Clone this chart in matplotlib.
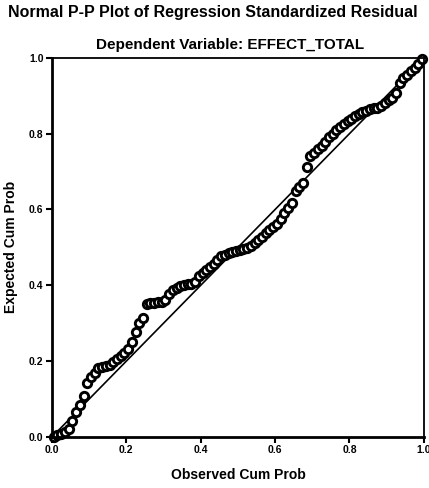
import numpy as np
import matplotlib
matplotlib.use('Agg')
import matplotlib.pyplot as plt

plt.rcParams['font.family'] = ['Liberation Sans', 'DejaVu Sans']

# Observed vs expected cumulative probability
observed = [0.005, 0.015, 0.025, 0.035, 0.045, 0.055, 0.065, 0.075, 0.085, 0.095,
            0.105, 0.115, 0.125, 0.135, 0.145, 0.155, 0.165, 0.175, 0.185, 0.195,
            0.205, 0.215, 0.225, 0.235, 0.245, 0.255, 0.265, 0.275, 0.285, 0.295,
            0.305, 0.315, 0.325, 0.335, 0.345, 0.355, 0.365, 0.375, 0.385, 0.395,
            0.405, 0.415, 0.425, 0.435, 0.445, 0.455, 0.465, 0.475, 0.485, 0.495,
            0.505, 0.515, 0.525, 0.535, 0.545, 0.555, 0.565, 0.575, 0.585, 0.595,
            0.605, 0.615, 0.625, 0.635, 0.645, 0.655, 0.665, 0.675, 0.685, 0.695,
            0.705, 0.715, 0.725, 0.735, 0.745, 0.755, 0.765, 0.775, 0.785, 0.795,
            0.805, 0.815, 0.825, 0.835, 0.845, 0.855, 0.865, 0.875, 0.885, 0.895,
            0.905, 0.915, 0.925, 0.935, 0.945, 0.955, 0.965, 0.975, 0.985, 0.995]
expected = [0.001, 0.004, 0.008, 0.012, 0.020, 0.042, 0.065, 0.084, 0.108, 0.142,
            0.158, 0.170, 0.181, 0.184, 0.187, 0.190, 0.198, 0.206, 0.213, 0.221,
            0.232, 0.250, 0.276, 0.300, 0.314, 0.352, 0.353, 0.354, 0.355, 0.356,
            0.362, 0.376, 0.388, 0.394, 0.399, 0.401, 0.403, 0.404, 0.410, 0.424,
            0.433, 0.441, 0.448, 0.455, 0.467, 0.478, 0.481, 0.484, 0.487, 0.490,
            0.493, 0.496, 0.499, 0.503, 0.512, 0.520, 0.528, 0.537, 0.545, 0.553,
            0.563, 0.576, 0.590, 0.603, 0.618, 0.648, 0.660, 0.670, 0.712, 0.740,
            0.750, 0.760, 0.768, 0.778, 0.790, 0.800, 0.809, 0.818, 0.826, 0.833,
            0.839, 0.846, 0.852, 0.857, 0.861, 0.864, 0.867, 0.869, 0.872, 0.880,
            0.888, 0.893, 0.908, 0.934, 0.946, 0.955, 0.964, 0.974, 0.985, 0.997]

ticks = [0.0, 0.2, 0.4, 0.6, 0.8, 1.0]
tick_labels = ['0.0', '0.2', '0.4', '0.6', '0.8', '1.0']

fig = plt.figure(figsize=(4.29, 4.88), dpi=100)
ax = fig.add_axes([0.121, 0.1045, 0.867, 0.777])

ax.plot([0, 1], [0, 1], color='black', linewidth=1.2, zorder=1)
ax.plot(observed, expected, 'o', markersize=6, markerfacecolor='white',
        markeredgecolor='black', markeredgewidth=2.1, zorder=2, clip_on=False)

ax.set_xlim(0, 1)
ax.set_ylim(0, 1)
ax.set_xticks(ticks)
ax.set_yticks(ticks)
ax.set_xticklabels(tick_labels, fontsize=7.5, fontweight='bold')
ax.set_yticklabels(tick_labels, fontsize=7.5, fontweight='bold')
ax.tick_params(direction='out', length=4, width=1.5, pad=2)
for side in ['left', 'bottom']:
    ax.spines[side].set_linewidth(2)
for side in ['top', 'right']:
    ax.spines[side].set_linewidth(1.3)

ax.set_xlabel('Observed Cum Prob', fontsize=10, fontweight='bold', labelpad=9)
ax.set_ylabel('Expected Cum Prob', fontsize=10, fontweight='bold', labelpad=8)

fig.text(8 / 429, 1 - 12 / 488, 'Normal P-P Plot of Regression Standardized Residual',
         fontsize=11.5, fontweight='bold', ha='left', va='center')
fig.text(230 / 429, 1 - 45 / 488, 'Dependent Variable: EFFECT_TOTAL',
         fontsize=11, fontweight='bold', ha='center', va='center')

fig.savefig('out.png', dpi=100, facecolor='white')
